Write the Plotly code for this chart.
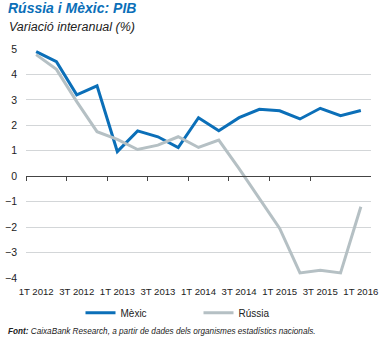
import plotly.graph_objects as go

quarters = ["1T 2012", "2T 2012", "3T 2012", "4T 2012",
            "1T 2013", "2T 2013", "3T 2013", "4T 2013",
            "1T 2014", "2T 2014", "3T 2014", "4T 2014",
            "1T 2015", "2T 2015", "3T 2015", "4T 2015",
            "1T 2016"]
mexic = [4.9, 4.5, 3.2, 3.55, 0.97, 1.78, 1.55, 1.13, 2.3, 1.79, 2.3, 2.63,
         2.57, 2.25, 2.67, 2.38, 2.58]
russia = [4.78, 4.2, 2.93, 1.75, 1.45, 1.05, 1.22, 1.55, 1.13, 1.42, 0.3,
          -0.85, -2.05, -3.8, -3.7, -3.8, -1.2]
y_ticks = [-4, -3, -2, -1, 0, 1, 2, 3, 4, 5]

BLUE = "#0b6fb8"
GREY = "#b5c0c4"
FONT = "Liberation Sans, Arial, sans-serif"

xs = list(range(len(quarters)))
label_idx = xs[::2]

fig = go.Figure()
fig.add_trace(go.Scatter(x=xs, y=mexic, mode="lines", name="Mèxic",
                         line=dict(color=BLUE, width=3)))
fig.add_trace(go.Scatter(x=xs, y=russia, mode="lines", name="Rússia",
                         line=dict(color=GREY, width=3)))
# invisible trace for zero-line axis
fig.add_trace(go.Scatter(x=[xs[0], xs[-1]], y=[0, 0], xaxis="x2", mode="lines",
                         line=dict(width=0), showlegend=False, hoverinfo="skip"))

fig.update_layout(
    width=383, height=338,
    margin=dict(l=22, r=5, t=49, b=60),
    paper_bgcolor="white", plot_bgcolor="white",
    showlegend=True,
    legend=dict(orientation="h", x=0.5, xanchor="center", y=-0.088, yanchor="top",
                font=dict(family=FONT, size=10, color="#222"),
                itemwidth=30, traceorder="normal", entrywidth=73),
    xaxis=dict(range=[-0.5, 16.5], tickmode="array", tickvals=label_idx,
               ticktext=[quarters[i] for i in label_idx], showgrid=False,
               zeroline=False, showline=False, ticks="", tickangle=0,
               tickfont=dict(family=FONT, size=9.6, color="#222"),
               ticklabelstandoff=6, ticklabeloverflow="allow"),
    xaxis2=dict(range=[-0.5, 16.5], overlaying="x", anchor="free",
                position=4 / 9, showgrid=False, zeroline=False, showline=True,
                linecolor="#444", linewidth=1, ticks="outside", ticklen=4,
                tickcolor="#444", tickwidth=1, tickmode="array",
                tickvals=[i - 0.5 for i in label_idx[:-1]],
                showticklabels=False),
    yaxis=dict(range=[-4, 5], tickvals=y_ticks, showgrid=True,
               gridcolor="#d3d6d8", gridwidth=1, zeroline=False, showline=False,
               ticks="", tickfont=dict(family=FONT, size=10.5, color="#222"),
               ticklabelstandoff=8),
)

fig.add_annotation(text="<b><i>Rússia i Mèxic: PIB</i></b>", xref="paper", yref="paper",
                   x=-22 / 356, y=1, yshift=51, xanchor="left", yanchor="top",
                   showarrow=False, xshift=1,
                   font=dict(family=FONT, size=14, color=BLUE))
fig.add_annotation(text="<i>Variació interanual (%)</i>", xref="paper", yref="paper",
                   x=-22 / 356, y=1, yshift=31, xanchor="left", yanchor="top",
                   showarrow=False, xshift=2,
                   font=dict(family=FONT, size=12.5, color="#222"))
fig.add_annotation(text="<b><i>Font:</i></b><i> CaixaBank Research, a partir de dades dels organismes estadístics nacionals.</i>",
                   xref="paper", yref="paper", x=-22 / 356, y=0, yshift=-47,
                   xanchor="left", yanchor="top", showarrow=False, xshift=1,
                   font=dict(family=FONT, size=8.2, color="#222"))

fig.write_html("out.html")
